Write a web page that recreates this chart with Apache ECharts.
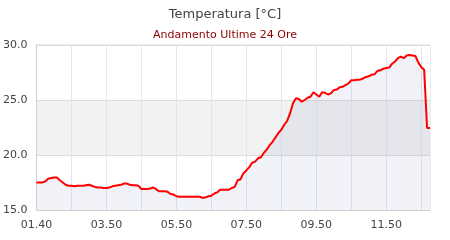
<!DOCTYPE html>
<html><head><meta charset="utf-8">
<script src="https://cdn.jsdelivr.net/npm/echarts@6/dist/echarts.min.js"></script>
<style>html,body{margin:0;padding:0;background:#fff}#c{width:450px;height:240px}</style>
</head><body><div id="c"></div>
<script>
// Time categories: first reading 01.40, then readings every 5 minutes from 01.55
var startLabel = '01.40';
var firstStep = '01.55';
var stepMinutes = 5;
var yTicks = [15, 20, 25, 30];
var temps = [
17.5,17.5,17.5,17.6,17.85,17.9,17.95,17.95,17.7,17.5,
17.3,17.2,17.2,17.15,17.2,17.2,17.2,17.25,17.3,17.2,
17.1,17.05,17.05,17.0,17.0,17.05,17.15,17.2,17.25,17.3,
17.4,17.4,17.3,17.25,17.25,17.2,16.9,16.9,16.9,16.95,
17.05,16.9,16.7,16.7,16.7,16.65,16.45,16.4,16.25,16.2,
16.2,16.2,16.2,16.2,16.2,16.2,16.2,16.1,16.15,16.25,
16.3,16.5,16.6,16.85,16.85,16.85,16.85,17.0,17.1,17.7,
17.8,18.35,18.6,18.9,19.3,19.4,19.7,19.8,20.2,20.5,
20.9,21.2,21.6,22.0,22.3,22.75,23.1,23.8,24.7,25.15,
25.1,24.85,25.0,25.2,25.3,25.7,25.5,25.3,25.7,25.65,
25.5,25.6,25.9,25.95,26.15,26.2,26.35,26.5,26.8,26.8,
26.85,26.85,26.95,27.1,27.15,27.3,27.35,27.65,27.7,27.85,
27.9,27.95,28.3,28.5,28.8,28.95,28.8,29.05,29.1,29.05,
29.0,28.4,28.0,27.75,22.45,22.45
];
function pad(n){return (n<10?'0':'')+n;}
var times = [startLabel];
(function(){
  var p = firstStep.split('.'), m = (+p[0])*60 + (+p[1]);
  for (var i = 1; i < temps.length; i++) {
    times.push(pad(Math.floor(m/60)%24) + '.' + pad(m%60));
    m += stepMinutes;
  }
})();

var chart = echarts.init(document.getElementById('c'), null, {renderer:'canvas'});
var font = 'DejaVu Sans';
chart.setOption({
  animation:false,
  backgroundColor:'#ffffff',
  title:{
    text:'Temperatura [°C]',
    subtext:'Andamento Ultime 24 Ore',
    left:'center', top:3, itemGap:9,
    textStyle:{fontFamily:font,fontSize:13,fontWeight:'normal',color:'#444444'},
    subtextStyle:{fontFamily:font,fontSize:11,color:'#8b0000'}
  },
  grid:{left:36,right:20,top:45,bottom:30,show:true,borderColor:'#d8d8d8',borderWidth:1,backgroundColor:'transparent'},
  xAxis:{
    type:'category', data:times, boundaryGap:false,
    axisLine:{show:true,lineStyle:{color:'#d0d0d0'}},
    axisTick:{show:false},
    axisLabel:{interval:23,fontFamily:font,fontSize:11,color:'#444444',margin:10},
    splitLine:{show:true,interval:11,lineStyle:{color:'#e4e4f6',width:1}}
  },
  yAxis:{
    type:'value', min:yTicks[0], max:yTicks[yTicks.length-1], interval:5,
    axisLine:{show:true,lineStyle:{color:'#d0d0d0'}},
    axisTick:{show:false},
    axisLabel:{fontFamily:font,fontSize:11,color:'#444444',margin:9,formatter:function(v){return v.toFixed(1);}},
    splitLine:{show:true,lineStyle:{color:'#dcdcdc'}},
    splitArea:{show:true,areaStyle:{color:['#ffffff','#f2f2f2']}}
  },
  series:[{
    type:'line', data:temps, symbol:'none', smooth:false,
    lineStyle:{color:'#ff0000',width:2},
    areaStyle:{color:'rgba(120,120,190,0.15)'}
  }]
});
</script></body></html>
